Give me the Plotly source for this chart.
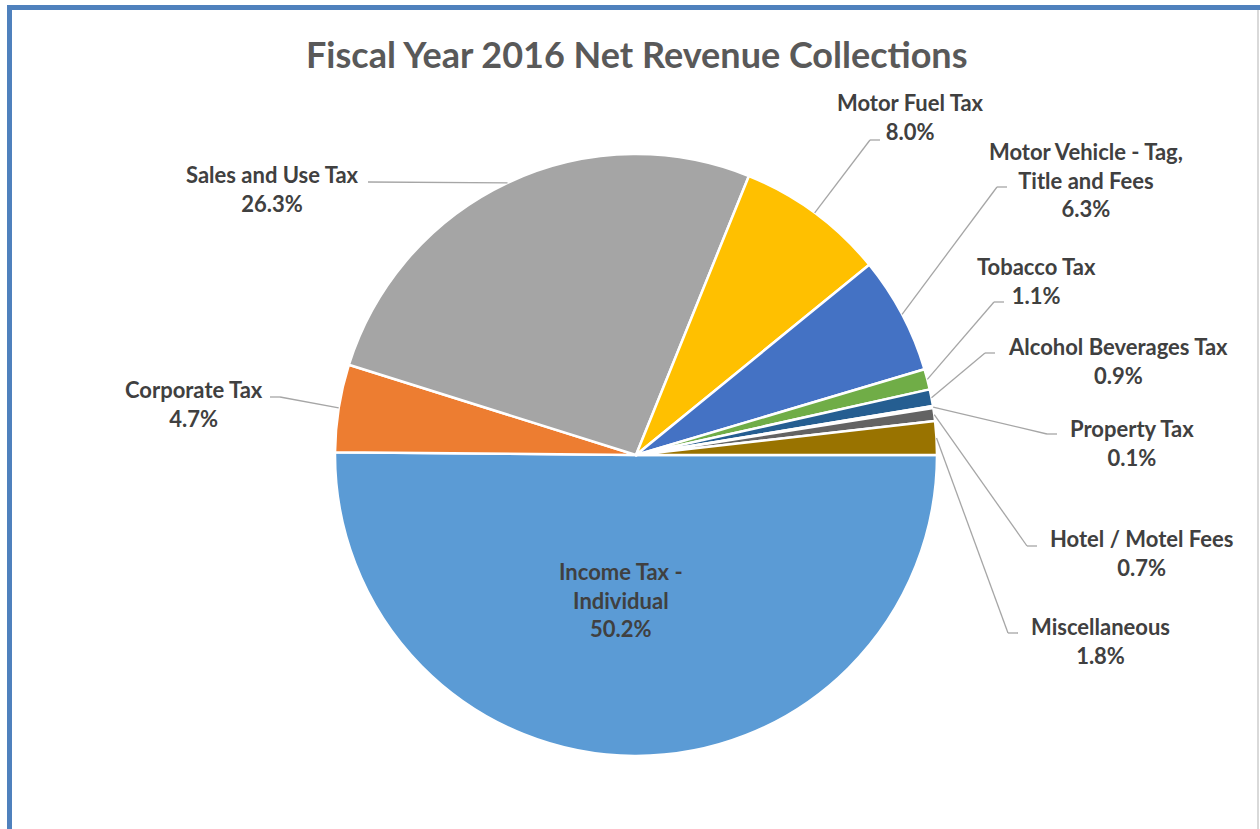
import math

import plotly.graph_objects as go

W, H = 1260, 829

labels = [
    "Income Tax - Individual",
    "Corporate Tax",
    "Sales and Use Tax",
    "Motor Fuel Tax",
    "Motor Vehicle - Tag, Title and Fees",
    "Tobacco Tax",
    "Alcohol Beverages Tax",
    "Property Tax",
    "Hotel / Motel Fees",
    "Miscellaneous",
]
shares = [50.2, 4.7, 26.3, 8.0, 6.3, 1.1, 0.9, 0.1, 0.7, 1.8]
colors = [
    "#5B9BD5", "#ED7D31", "#A5A5A5", "#FFC000", "#4472C4",
    "#70AD47", "#255E91", "#9E480E", "#636363", "#997300",
]
# label text shown beside each slice (line breaks as in the original)
label_text = [
    "Income Tax -<br>Individual",
    "Corporate Tax",
    "Sales and Use Tax",
    "Motor Fuel Tax",
    "Motor Vehicle - Tag,<br>Title and Fees",
    "Tobacco Tax",
    "Alcohol Beverages Tax",
    "Property Tax",
    "Hotel / Motel Fees",
    "Miscellaneous",
]

# pie geometry in pixels
CX, CY, R = 636, 455, 301

# label centre (px) and leader elbow (px); None = no leader line
label_pos = [
    (621, 600), (194, 404), (272, 189), (910, 117), (1086, 180),
    (1036, 281), (1118, 361), (1132, 443), (1141, 553), (1100, 641),
]
elbows = [
    None, (280, 397), (368, 182), (870, 140), (997, 187),
    (994, 302), (985, 353), (1047, 434), (1027, 546), (1008, 633),
]
tails = [None, -10, 0, 10, 10, 10, 10, 10, 10, 10]

FONT = "Lato, Open Sans, sans-serif"


def px(x):
    return x / W


def py(y):
    return 1 - y / H


fig = go.Figure()

fig.add_trace(
    go.Pie(
        labels=labels,
        values=shares,
        sort=False,
        direction="clockwise",
        rotation=90,
        marker=dict(colors=colors, line=dict(color="white", width=2.5)),
        textinfo="none",
        hoverinfo="label+percent",
        domain=dict(x=[px(CX - R), px(CX + R)], y=[py(CY + R), py(CY - R)]),
        showlegend=False,
    )
)

total = sum(shares)
cum = 0.0
shapes = []
annotations = []
for i, v in enumerate(shares):
    mid = (cum + v / 2) / total * 360.0
    cum += v
    ang = math.radians(mid)
    sx, sy = CX + R * math.cos(ang), CY + R * math.sin(ang)
    if elbows[i] is not None:
        ex, ey = elbows[i]
        shapes.append(dict(type="line", xref="paper", yref="paper",
                           x0=px(sx), y0=py(sy), x1=px(ex), y1=py(ey),
                           line=dict(color="#A6A6A6", width=1.3)))
        if tails[i]:
            shapes.append(dict(type="line", xref="paper", yref="paper",
                               x0=px(ex), y0=py(ey), x1=px(ex + tails[i]), y1=py(ey),
                               line=dict(color="#A6A6A6", width=1.3)))
    lx, ly = label_pos[i]
    annotations.append(dict(
        text=f"{label_text[i]}<br>{v:.1f}%",
        x=px(lx), y=py(ly), xref="paper", yref="paper",
        showarrow=False, align="center", xanchor="center", yanchor="middle",
        font=dict(family=FONT, size=22, color="#404040", weight="bold"),
    ))

# frame like the original chart border
shapes.append(dict(type="line", xref="paper", yref="paper", x0=px(9.5), y0=py(7), x1=px(9.5), y1=0,
                   line=dict(color="#4F81BD", width=5)))
shapes.append(dict(type="line", xref="paper", yref="paper", x0=px(7), y0=py(7.5), x1=1, y1=py(7.5),
                   line=dict(color="#4F81BD", width=5)))
shapes.append(dict(type="line", xref="paper", yref="paper", x0=px(1258), y0=py(10), x1=px(1258), y1=0,
                   line=dict(color="#D9D9D9", width=2)))

annotations.append(dict(
    text="Fiscal Year 2016 Net Revenue Collections",
    x=px(636), y=py(54), xref="paper", yref="paper",
    showarrow=False, xanchor="center", yanchor="middle",
    font=dict(family=FONT, size=36, color="#595959", weight="bold"),
))

fig.update_layout(
    width=W,
    height=H,
    margin=dict(l=0, r=0, t=0, b=0),
    paper_bgcolor="white",
    plot_bgcolor="white",
    shapes=shapes,
    annotations=annotations,
)

# drop the default page margin so the figure sits at the window origin
fig.write_html(
    "out.html",
    config={"displayModeBar": False},
    post_script="document.body.style.margin='0';document.body.style.overflow='hidden';",
)
